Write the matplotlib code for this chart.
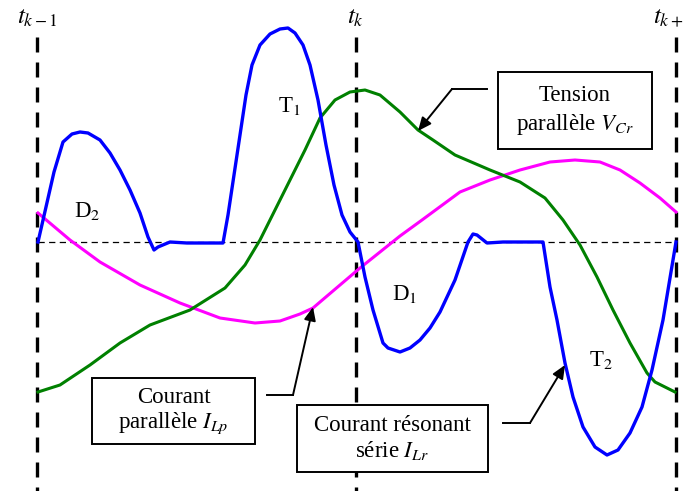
import matplotlib
matplotlib.use('Agg')
import matplotlib.pyplot as plt

plt.rcParams['font.family'] = 'Liberation Serif'
plt.rcParams['mathtext.fontset'] = 'stix'

# curves (x = time in px, y = level in px, down is negative)
blue_x = [38, 54, 63, 72, 80, 88, 100, 110, 120, 130, 140, 148, 154, 158, 170, 187, 223,
          228, 234, 240, 246, 252, 260, 270, 280, 288, 295, 303, 310, 318, 326, 334, 342, 350, 358,
          365, 373, 383, 388, 400, 410, 420, 430, 440, 455, 468, 473, 477, 487, 503, 542,
          543, 550, 557, 565, 573, 583, 595, 607, 618, 630, 642, 652, 663, 676]
blue_y = [242, 172, 142, 134, 132, 133, 140, 153, 170, 190, 213, 237, 250, 247, 242, 243, 243,
          215, 175, 135, 95, 65, 45, 34, 29, 28, 33, 45, 65, 100, 145, 185, 215, 232, 242,
          277, 310, 343, 348, 352, 348, 340, 328, 312, 280, 242, 234, 235, 243, 242, 242,
          242, 287, 320, 363, 397, 427, 447, 455, 450, 433, 407, 370, 320, 242]

pink_x = [38, 70, 100, 140, 180, 220, 255, 280, 300, 313, 320, 340, 360, 380, 400, 422,
          460, 490, 520, 550, 575, 600, 620, 640, 660, 676]
pink_y = [213, 240, 262, 285, 303, 318, 323, 321, 314, 308, 302, 285, 268, 252, 236, 220,
          192, 180, 170, 162, 160, 162, 170, 183, 198, 212]

green_x = [38, 60, 90, 120, 150, 190, 225, 245, 260, 275, 290, 305, 320, 335, 350, 365,
           380, 400, 418, 433, 455, 490, 520, 545, 563, 580, 597, 613, 630, 647, 655, 675]
green_y = [392, 385, 365, 343, 325, 310, 288, 265, 240, 210, 180, 150, 118, 100, 92, 90,
           95, 112, 130, 140, 155, 170, 182, 198, 220, 245, 277, 310, 343, 373, 382, 392]

t_marks = [37, 356, 676]
t_labels = ['$t_{k\u22121}$', '$t_k$', '$t_{k+}$']

fig = plt.figure(figsize=(6.85, 4.91), dpi=100)
ax = fig.add_axes([0, 0, 1, 1])
ax.set_xlim(0, 685)
ax.set_ylim(491, 0)
ax.axis('off')

ax.plot([38, 676], [242, 242], color='black', lw=0.9, ls=(0, (5, 3.5)), zorder=1)
for x in t_marks:
    ax.plot([x, x], [37, 491], color='black', lw=2.4, ls=(0, (4.5, 3)), zorder=1)

ax.plot(pink_x, pink_y, color='#ff00ff', lw=2.2, zorder=2)
ax.plot(green_x, green_y, color='#008000', lw=2.2, zorder=2)
ax.plot(blue_x, blue_y, color='#0000ff', lw=2.4, zorder=3)

# time labels
ax.text(37, 29, t_labels[0], fontsize=18, ha='center', va='bottom')
ax.text(356, 29, t_labels[1], fontsize=18, ha='center', va='bottom')
ax.text(683, 29, t_labels[2], fontsize=18, ha='right', va='bottom')

# region labels
fs = 16.5
ax.text(87, 217, 'D$_2$', fontsize=fs, ha='center', va='baseline')
ax.text(289, 112, 'T$_1$', fontsize=fs, ha='center', va='baseline')
ax.text(405, 300, 'D$_1$', fontsize=fs, ha='center', va='baseline')
ax.text(601, 366, 'T$_2$', fontsize=fs, ha='center', va='baseline')

def label_box(x0, y0, x1, y1, lines):
    ax.add_patch(plt.Rectangle((x0, y0), x1 - x0, y1 - y0, fc='white', ec='black',
                               lw=1.4, zorder=5))
    cx = (x0 + x1) / 2
    ax.text(cx, y0 + (y1 - y0) * 0.30, lines[0], fontsize=fs, ha='center', va='center', zorder=6)
    ax.text(cx, y0 + (y1 - y0) * 0.68, lines[1], fontsize=fs, ha='center', va='center', zorder=6)

label_box(498, 72, 652, 149, ['Tension', 'parallèle $V_{Cr}$'])
label_box(92, 378, 255, 444, ['Courant', 'parallèle $I_{Lp}$'])
label_box(297, 405, 488, 472, ['Courant résonant', 'série $I_{Lr}$'])

arrow = dict(arrowstyle='-|>,head_length=0.8,head_width=0.35', color='black', lw=1.4,
             shrinkA=0, shrinkB=0)
ax.plot([487, 452], [89, 89], color='black', lw=1.4, zorder=4)
ax.annotate('', xy=(418, 131), xytext=(452, 89), arrowprops=arrow, zorder=4)
ax.plot([267, 293], [395, 395], color='black', lw=1.4, zorder=4)
ax.annotate('', xy=(313, 307), xytext=(293, 395), arrowprops=arrow, zorder=4)
ax.plot([503, 530], [423, 423], color='black', lw=1.4, zorder=4)
ax.annotate('', xy=(565, 365), xytext=(530, 423), arrowprops=arrow, zorder=4)

fig.savefig('out.png', dpi=100)
